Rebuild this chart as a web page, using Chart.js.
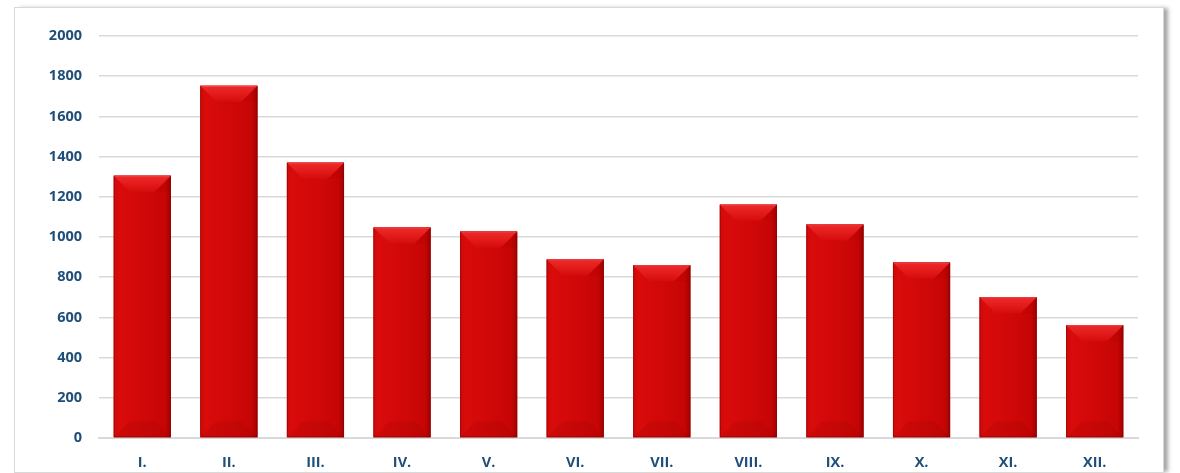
<!DOCTYPE html>
<html>
<head>
<meta charset="utf-8">
<script src="https://cdn.jsdelivr.net/npm/chart.js@4/dist/chart.umd.min.js"></script>
<style>
  html, body { margin: 0; padding: 0; background: #fff; }
  body { width: 1180px; height: 473px; position: relative; overflow: hidden; }
  #frame {
    position: absolute; left: 14px; top: 7px; width: 1148px; height: 464px;
    border: 1px solid #d9d9d9; background: #fff;
    box-shadow: 5px 0 4px -1px rgba(0,0,0,0.35);
  }
  #wrap { position: absolute; left: 0; top: 0; width: 1180px; height: 473px; }
</style>
</head>
<body>
<div id="frame"></div>
<div id="wrap"><canvas id="c" width="1180" height="473"></canvas></div>
<script>
// Monthly totals (Roman numerals for months)
const months = ['I.', 'II.', 'III.', 'IV.', 'V.', 'VI.', 'VII.', 'VIII.', 'IX.', 'X.', 'XI.', 'XII.'];
const totals = [1305, 1752, 1370, 1047, 1027, 888, 859, 1161, 1062, 873, 700, 561];
const yTicks = [0, 200, 400, 600, 800, 1000, 1200, 1400, 1600, 1800, 2000];

const labelColor = '#1f4e79';
const labelFont = { family: '"Open Sans", "Liberation Sans", sans-serif', size: 14.5, weight: 'bold' };

// Paints a beveled look over each bar, using the bar element geometry
const bevelBars = {
  id: 'bevelBars',
  afterDatasetsDraw(chart) {
    const ctx = chart.ctx;
    const meta = chart.getDatasetMeta(0);
    meta.data.forEach(bar => {
      const x0 = bar.x - bar.width / 2, x1 = bar.x + bar.width / 2;
      const yt = bar.y, yb = bar.base;
      const d = Math.min(16, bar.width / 2, (yb - yt) / 2);
      ctx.save();
      // body: horizontal shading
      const g = ctx.createLinearGradient(x0, 0, x1, 0);
      g.addColorStop(0, '#cf0a0a');
      g.addColorStop(0.1, '#d90b0b');
      g.addColorStop(0.5, '#d10808');
      g.addColorStop(0.9, '#c60505');
      g.addColorStop(1, '#a00202');
      ctx.fillStyle = g;
      ctx.fillRect(x0, yt, x1 - x0, yb - yt);
      // top facet: bright, fading downward
      const gt = ctx.createLinearGradient(0, yt, 0, yt + d);
      gt.addColorStop(0, '#ef2a2a');
      gt.addColorStop(1, '#d60c0c');
      ctx.fillStyle = gt;
      ctx.beginPath();
      ctx.moveTo(x0, yt); ctx.lineTo(x1, yt); ctx.lineTo(x1 - d, yt + d); ctx.lineTo(x0 + d, yt + d);
      ctx.closePath(); ctx.fill();
      // top corner wedges, slightly darker than the top facet
      ctx.fillStyle = 'rgba(150,0,0,0.12)';
      ctx.beginPath();
      ctx.moveTo(x1, yt); ctx.lineTo(x1 - d, yt + d); ctx.lineTo(x1, yt + d); ctx.closePath(); ctx.fill();
      // bottom facet: slightly darker
      ctx.fillStyle = 'rgba(120,0,0,0.12)';
      ctx.beginPath();
      ctx.moveTo(x0, yb); ctx.lineTo(x1, yb); ctx.lineTo(x1 - d, yb - d); ctx.lineTo(x0 + d, yb - d);
      ctx.closePath(); ctx.fill();
      // outline
      ctx.strokeStyle = 'rgba(130,0,0,0.5)';
      ctx.lineWidth = 1;
      ctx.strokeRect(x0 + 0.5, yt + 0.5, x1 - x0 - 1, yb - yt - 1);
      ctx.fillStyle = '#ff4a4a';
      ctx.fillRect(x0 + 1, yt, x1 - x0 - 2, 1);
      ctx.restore();
    });
  }
};

new Chart(document.getElementById('c'), {
  type: 'bar',
  data: {
    labels: months,
    datasets: [{
      data: totals,
      backgroundColor: '#cc0808',
      borderWidth: 0,
      categoryPercentage: 0.66,
      barPercentage: 1.0
    }]
  },
  options: {
    responsive: false,
    animation: false,
    devicePixelRatio: 1,
    layout: { padding: { left: 0, right: 42, top: 36, bottom: 0 } },
    plugins: { legend: { display: false }, tooltip: { enabled: false } },
    scales: {
      x: {
        grid: { display: false, drawTicks: false },
        border: { color: '#d9d9d9', width: 2 },
        ticks: { color: labelColor, font: labelFont, padding: 16 },
        afterFit(scale) { scale.height = 35; }
      },
      y: {
        min: 0, max: 2000,
        afterBuildTicks(scale) { scale.ticks = yTicks.map(v => ({ value: v })); },
        grid: { color: '#d9d9d9', lineWidth: 1.5, drawTicks: false },
        border: { display: false },
        ticks: { color: labelColor, font: labelFont, padding: 17, callback: v => String(v) },
        afterFit(scale) { scale.width = 99; }
      }
    }
  },
  plugins: [bevelBars]
});
</script>
</body>
</html>
